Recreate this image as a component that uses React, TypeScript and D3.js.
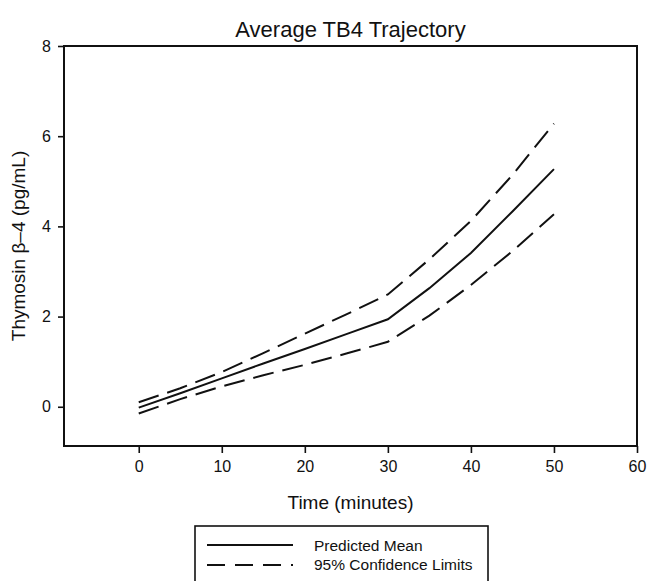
import React, { useEffect, useRef } from 'react';
import * as d3 from 'd3';

// minutes
const times = [0, 5, 10, 15, 20, 25, 30, 35, 40, 45, 50];
// predicted mean TB4 (pg/mL)
const meanVals = [-0.02, 0.3, 0.63, 0.96, 1.28, 1.61, 1.94, 2.63, 3.41, 4.33, 5.27];
// 95% confidence limits
const upperVals = [0.1, 0.41, 0.77, 1.19, 1.62, 2.05, 2.49, 3.27, 4.12, 5.14, 6.28];
const lowerVals = [-0.15, 0.17, 0.45, 0.7, 0.93, 1.18, 1.44, 2.02, 2.7, 3.45, 4.27];

const xTicks = [0, 10, 20, 30, 40, 50, 60];
const yTicks = [0, 2, 4, 6, 8];

const FONT = '"Liberation Sans", Arial, sans-serif';

const App = () => {
	const ref = useRef<SVGSVGElement>(null);

	useEffect(() => {
		const svg = d3.select(ref.current);
		svg.selectAll('*').remove();

		const left = 64, right = 637, top = 46, bottom = 446;

		const x = d3.scaleLinear().domain([-9, 60]).range([left, right]);
		const y = d3.scaleLinear().domain([-0.87, 8]).range([bottom, top]);

		// plot frame
		svg.append('rect')
			.attr('x', left).attr('y', top)
			.attr('width', right - left).attr('height', bottom - top)
			.attr('fill', 'none').attr('stroke', '#111').attr('stroke-width', 2);

		// axes
		const xAxis = svg.append('g')
			.attr('transform', `translate(0,${bottom})`)
			.call(d3.axisBottom(x).tickValues(xTicks).tickSize(7).tickSizeOuter(0).tickPadding(8));
		const yAxis = svg.append('g')
			.attr('transform', `translate(${left},0)`)
			.call(d3.axisLeft(y).tickValues(yTicks).tickSize(6).tickSizeOuter(0).tickPadding(7));

		[xAxis, yAxis].forEach(g => {
			g.select('.domain').remove();
			g.selectAll('line').attr('stroke', '#111').attr('stroke-width', 1.6);
			g.selectAll('text').attr('fill', '#111').style('font-size', '16px').style('font-family', FONT);
		});

		const line = d3.line<number>()
			.x((d, i) => x(times[i]))
			.y(d => y(d));

		svg.append('path').datum(meanVals)
			.attr('fill', 'none').attr('stroke', '#111').attr('stroke-width', 2)
			.attr('d', line);
		[upperVals, lowerVals].forEach(vals => {
			svg.append('path').datum(vals)
				.attr('fill', 'none').attr('stroke', '#111').attr('stroke-width', 2)
				.attr('stroke-dasharray', '21,9')
				.attr('d', line);
		});

		// titles
		svg.append('text')
			.text('Average TB4 Trajectory')
			.attr('x', (left + right) / 2).attr('y', 37)
			.attr('text-anchor', 'middle')
			.style('font-size', '22px').style('font-family', FONT).attr('fill', '#111');

		svg.append('text')
			.text('Time (minutes)')
			.attr('x', (left + right) / 2).attr('y', 509)
			.attr('text-anchor', 'middle')
			.style('font-size', '19px').style('font-family', FONT).attr('fill', '#111');

		svg.append('text')
			.text('Thymosin β–4 (pg/mL)')
			.attr('transform', `translate(25,${(top + bottom) / 2}) rotate(-90)`)
			.attr('text-anchor', 'middle')
			.style('font-size', '19px').style('font-family', FONT).attr('fill', '#111');

		// legend
		const lg = svg.append('g');
		lg.append('rect')
			.attr('x', 195).attr('y', 526).attr('width', 293).attr('height', 70)
			.attr('fill', 'none').attr('stroke', '#111').attr('stroke-width', 1.6);
		lg.append('line')
			.attr('x1', 207).attr('x2', 293).attr('y1', 545).attr('y2', 545)
			.attr('stroke', '#111').attr('stroke-width', 2);
		lg.append('line')
			.attr('x1', 207).attr('x2', 293).attr('y1', 565).attr('y2', 565)
			.attr('stroke', '#111').attr('stroke-width', 2).attr('stroke-dasharray', '18,10');
		lg.append('text').text('Predicted Mean')
			.attr('x', 314).attr('y', 551)
			.style('font-size', '15.5px').style('font-family', FONT).attr('fill', '#111');
		lg.append('text').text('95% Confidence Limits')
			.attr('x', 314).attr('y', 570)
			.style('font-size', '15.5px').style('font-family', FONT).attr('fill', '#111');
	}, []);

	return (
		<svg ref={ref} width={647} height={581}
			style={{ position: 'absolute', left: 0, top: 0, background: '#fff', display: 'block' }} />
	);
};

export default App;
